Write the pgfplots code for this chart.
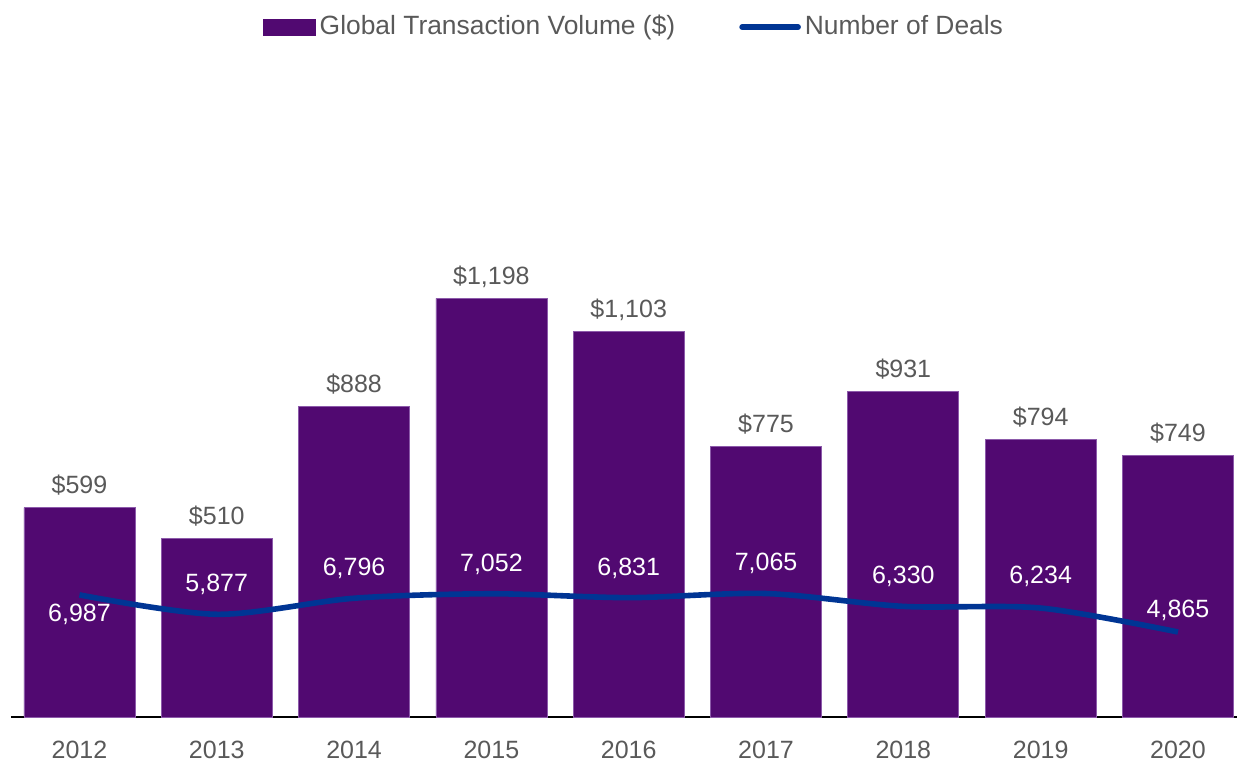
\documentclass[border=0pt]{standalone}
\usepackage{pgfplots}
\pgfplotsset{compat=1.18}
\usepackage{pgfplotstable}
\usepackage{fontspec}
\setmainfont{Liberation Sans}
\definecolor{barpurple}{RGB}{81,9,113}
\definecolor{baredge}{RGB}{140,90,170}
\definecolor{lineblue}{RGB}{0,53,148}
\definecolor{txtgray}{RGB}{89,89,89}
\pgfplotstableread{
x vol
0 599
1 510
2 888
3 1198
4 1103
5 775
6 931
7 794
8 749
}\voltable
\pgfplotstableread{
x deals
0 6987
1 5877
2 6796
3 7052
4 6831
5 7065
6 6330
7 6234
8 4865
}\dealtable
\pgfplotstableread{
x ylab v
0 5444 6987
1 7163 5877
2 8079 6796
3 8309 7052
4 8079 6831
5 8366 7065
6 7621 6330
7 7621 6234
8 5673 4865
}\labtable
\begin{document}
\fontsize{12.5pt}{15pt}\selectfont
\begin{tikzpicture}
\pgfplotsset{
  base/.style={scale only axis, width=613.1pt, height=349.5pt,
    at={(5.4pt,22pt)}, anchor=south west, xmin=-0.5, xmax=8.43,
    /pgf/number format/assume math mode=true,
    /pgf/number format/1000 sep={,}, clip=false},
}
\begin{axis}[base, ymin=0, ymax=2000,
  axis x line*=bottom, axis y line=none,
  xtick={0,1,2,3,4,5,6,7,8},
  xticklabels={2012,2013,2014,2015,2016,2017,2018,2019,2020},
  major tick length=0pt,
  x axis line style={black, line width=0.75pt, -},
  xticklabel style={font=\fontsize{12.5pt}{15pt}\selectfont, text=txtgray, anchor=base, yshift=-20.5pt, inner sep=0pt},
  ybar, bar width=55.5pt,
  nodes near coords={\$\pgfmathprintnumber{\pgfplotspointmeta}},
  every node near coord/.style={anchor=base, yshift=7pt, inner sep=0pt, text=txtgray, font=\fontsize{12.5pt}{15pt}\selectfont}]
\addplot[fill=barpurple, draw=baredge, line width=0.4pt] table[x=x, y=vol] {\voltable};
\end{axis}
\begin{axis}[base, ymin=0, ymax=40000, hide axis,
  legend style={at={(0.509,0.987)}, anchor=center, draw=none, fill=none,
    font=\fontsize{13.2pt}{15pt}\selectfont, text=txtgray,
    /tikz/every even column/.append style={column sep=30pt}, inner sep=0pt},
  legend columns=2, legend cell align=left]
\addlegendimage{legend image code/.code={\fill[barpurple] (0pt,-4pt) rectangle (26pt,4pt);}}
\addlegendentry{Global Transaction Volume (\$)}
\addplot[lineblue, line width=2.8pt, smooth, mark=none,
  legend image code/.code={\draw[lineblue, line width=2.8pt, line cap=round] (0pt,0pt) -- (28pt,0pt);}]
  table[x=x, y=deals] {\dealtable};
\addlegendentry{Number of Deals}
\addplot[draw=none, mark=none, forget plot, point meta=explicit,
  nodes near coords={\pgfmathprintnumber{\pgfplotspointmeta}},
  every node near coord/.style={anchor=base, inner sep=0pt, text=white, font=\fontsize{12.5pt}{15pt}\selectfont}]
  table[x=x, y=ylab, meta=v] {\labtable};
\end{axis}
\pgfresetboundingbox
\path (0,0) rectangle (618.5pt,380.5pt);
\end{tikzpicture}
\end{document}
